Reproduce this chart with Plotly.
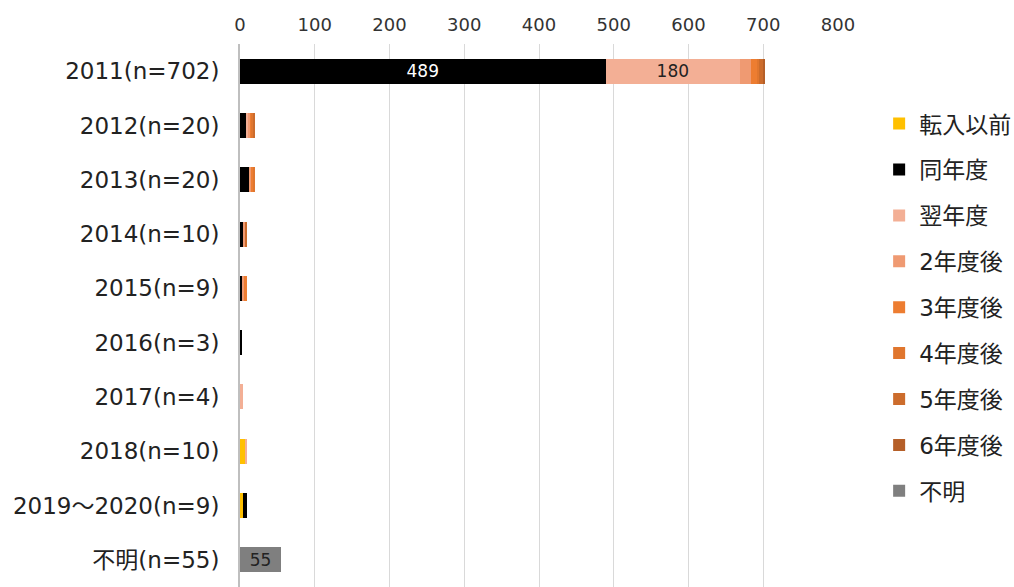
import plotly.graph_objects as go

categories = ["2011(n=702)", "2012(n=20)", "2013(n=20)", "2014(n=10)", "2015(n=9)",
              "2016(n=3)", "2017(n=4)", "2018(n=10)", "2019～2020(n=9)", "不明(n=55)"]
series_names = ["転入以前", "同年度", "翌年度", "2年度後", "3年度後", "4年度後", "5年度後", "6年度後", "不明"]
colors = ["#FFC000", "#000000", "#F3AF95", "#EF9A72", "#ED7D31", "#E0762E", "#CC6C2C", "#B55F28", "#7F7F7F"]

tennyu   = [0, 0, 0, 0, 0, 0, 0, 8, 4, 0]
dounendo = [489, 8, 12, 4, 3, 3, 0, 0, 5, 0]
yokunen  = [180, 3, 0, 0, 0, 0, 4, 2, 0, 0]
nen2     = [15, 3, 3, 3, 3, 0, 0, 0, 0, 0]
nen3     = [7, 2, 3, 0, 3, 0, 0, 0, 0, 0]
nen4     = [3, 1, 2, 0, 0, 0, 0, 0, 0, 0]
nen5     = [5, 3, 0, 3, 0, 0, 0, 0, 0, 0]
nen6     = [3, 0, 0, 0, 0, 0, 0, 0, 0, 0]
fumei    = [0, 0, 0, 0, 0, 0, 0, 0, 0, 55]
values = [tennyu, dounendo, yokunen, nen2, nen3, nen4, nen5, nen6, fumei]

# labels shown inside bars
label_show = {1: [0], 2: [0], 8: [9]}
label_color = {1: "white", 2: "#222222", 8: "#222222"}

ticks = [0, 100, 200, 300, 400, 500, 600, 700, 800]

FONT = "DejaVu Sans, Noto Sans CJK JP"
fig = go.Figure()
for i, (name, vals, col) in enumerate(zip(series_names, values, colors)):
    text = [str(v) if (i in label_show and j in label_show[i]) else "" for j, v in enumerate(vals)]
    fig.add_trace(go.Bar(
        y=categories, x=vals, name=name, orientation="h",
        marker=dict(color=col, line=dict(width=0)),
        text=text, textposition="inside", insidetextanchor="middle",
        textangle=0, constraintext="none",
        insidetextfont=dict(family=FONT, size=17, color=label_color.get(i, "#222")),
        legendgroup=name,
        hoverinfo="x+name",
    ))

fig.update_layout(
    barmode="stack", bargap=0.54,
    width=1014, height=587,
    margin=dict(l=240, r=176, t=44, b=0, autoexpand=False),
    plot_bgcolor="white", paper_bgcolor="white",
    font=dict(family=FONT, color="#222222"),
    xaxis=dict(range=[0, 800], tickvals=ticks, side="top", showgrid=True,
               gridcolor="#D9D9D9", gridwidth=1, zeroline=False, showline=False,
               ticklabelstandoff=8,
               tickfont=dict(family=FONT, size=18, color="#333333"), ticks=""),
    yaxis=dict(autorange="reversed", showline=True, linecolor="#BFBFBF", linewidth=2,
               ticks="", ticklabelstandoff=14,
               tickfont=dict(family=FONT, size=23, color="#222222")),
    legend=dict(xref="container", yref="container", x=0.867, y=0.826,
                xanchor="left", yanchor="top", maxheight=600,
                font=dict(family=FONT, size=23, color="#222222"),
                traceorder="grouped", tracegroupgap=13, itemwidth=30),
    showlegend=True,
)

fig.write_html("out.html")
